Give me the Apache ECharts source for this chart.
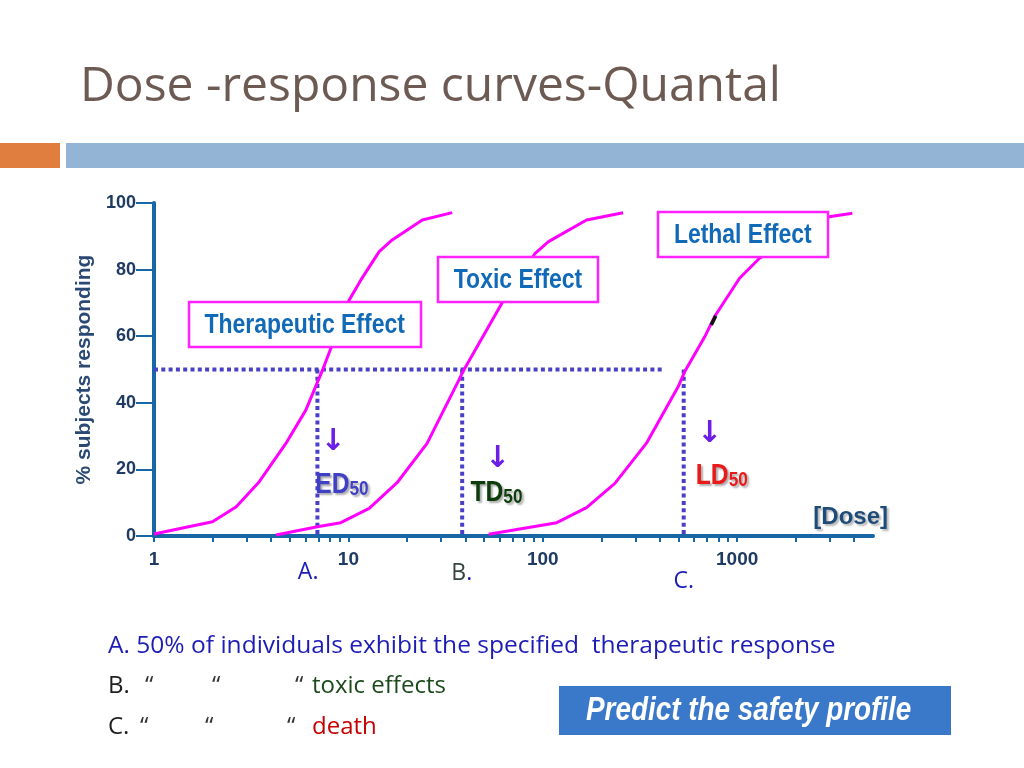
<!DOCTYPE html>
<html>
<head>
<meta charset="utf-8">
<title>Dose -response curves-Quantal</title>
<script src="https://cdn.jsdelivr.net/npm/echarts@6/dist/echarts.min.js"></script>
<style>
  html, body { margin: 0; padding: 0; background: #fff; }
  #chart { width: 1024px; height: 768px; }
</style>
</head>
<body>
<div id="chart"></div>
<script>
// dose (log scale) vs % of subjects responding
const therapeuticCurve = [[1, 0.6], [2, 4.3], [2.65, 8.8], [3.48, 16.3], [4.77, 27.8], [6.04, 37.8], [7.36, 49.8],
  [10.1, 70.9], [11.6, 76.9], [14.4, 85.4], [16.8, 88.9], [24, 94.9], [34.2, 97.1]];
const toxicCurve = [[4.24, 0.3], [6.93, 2.8], [9.14, 4.0], [12.8, 8.3], [17.8, 16], [25.4, 27.8], [37, 46.8], [39.2, 49.8],
  [61.6, 69.9], [91.4, 84.9], [107, 88.4], [168, 94.9], [259, 97.1]];
const lethalCurve = [[52.7, 0.5], [118, 4.0], [168, 8.5], [235, 15.8], [341, 27.8], [497, 44.8], [537, 49.3],
  [681, 59.8], [766, 65.9], [1029, 77.4], [1303, 83.4], [2979, 95.9], [3917, 96.9]];
const penMark = [[736, 63.4], [776, 66.1]];           // small black stroke on the lethal curve

const medianNames = ['ED', 'TD', 'LD'];
const medianDoses = [6.93, 38.5, 531];                 // dotted drops at 50 %
const halfLevel = 50;
const halfGuideEnd = 420;                              // horizontal dotted guide stops here
const pointLetters = ['A', 'B', 'C'];

const effectNames = ['Therapeutic Effect', 'Toxic Effect', 'Lethal Effect'];

const xTickValues = [1, 2, 3, 4, 5, 6, 7, 8, 9, 10, 20, 30, 40, 50, 60, 70, 80, 90,
  100, 200, 300, 400, 500, 600, 700, 800, 900, 1000, 2000, 3000, 4000];
const xLabelValues = [1, 10, 100, 1000];

// anchors (data space) for the annotations drawn on the plot
const effectAnchors = [[5.96, 63.6], [74.6, 77.1], [1069, 90.6]];
const medianLabelAnchors = [[9.27, 15.3], [57.8, 12.9], [834, 18.0]];
const arrowAnchors = [[8.35, 28.1], [58.6, 23.1], [722, 30.7]];
const letterAnchors = [[6.21, -10.8], [38.3, -11.1], [532, -13.5]];

const ARIAL = '"Liberation Sans", Arial, sans-serif';
const SLIDE = '"Open Sans", "DejaVu Sans", sans-serif';
const NARROW_SCALE = 0.82;   // no Arial Narrow installed: squeeze Liberation Sans
const MAGENTA = '#ff00ff';
const AXIS_BLUE = '#1766a6';
const DOT_BLUE = '#4a40c8';
const medianColors = ['#4040c6', '#0d3d0d', '#e81a1a'];
const letterColors = ['#1c1cb8', '#34443f', '#1c1cb8'];

const chart = echarts.init(document.getElementById('chart'), null, { renderer: 'canvas' });

const dotted = { color: DOT_BLUE, width: 4, type: [4, 3.3], cap: 'butt' };
const hidden = { color: 'rgba(0,0,0,0)', opacity: 1 };
const series = [];

series.push({
  type: 'line', name: '50% guide', z: 2, symbol: 'none', silent: true,
  lineStyle: dotted,
  data: [[1, halfLevel], [halfGuideEnd, halfLevel]]
});
medianDoses.forEach((d, i) => {
  series.push({
    type: 'line', name: medianNames[i] + '50 drop', z: 2, symbol: 'none', silent: true,
    lineStyle: dotted,
    data: [[d, halfLevel], [d, 0]]
  });
});

[therapeuticCurve, toxicCurve, lethalCurve].forEach((c, i) => {
  series.push({
    type: 'line', name: effectNames[i], z: 3, symbol: 'none', smooth: false, silent: true,
    lineStyle: { color: MAGENTA, width: 3 },
    data: c
  });
});

series.push({
  type: 'line', name: 'mark', z: 4, symbol: 'none', silent: true,
  lineStyle: { color: '#111', width: 3.5 },
  data: penMark
});

// arrows
series.push({
  type: 'scatter', name: 'arrows', z: 10, clip: false, silent: true,
  symbolSize: 1, itemStyle: hidden,
  label: {
    show: true, position: 'inside', formatter: '\u2193',
    fontFamily: '"DejaVu Sans", sans-serif', fontWeight: 'bold', fontSize: 30, color: '#6b1ee6'
  },
  data: arrowAnchors
});

// A. B. C. under the axis
series.push({
  type: 'scatter', name: 'letters', z: 10, clip: false, silent: true,
  symbolSize: 1, itemStyle: hidden,
  data: letterAnchors.map((a, i) => ({
    value: a,
    label: {
      show: true, position: 'inside',
      formatter: '{l|' + pointLetters[i] + '}{d|.}',
      rich: {
        l: { fontFamily: SLIDE, fontSize: 23, color: letterColors[i] },
        d: { fontFamily: SLIDE, fontSize: 23, color: '#1c1cb8' }
      }
    }
  }))
});

const option = {
  animation: false,
  backgroundColor: '#fff',
  grid: { left: 154, right: 151, top: 203, bottom: 232, containLabel: false },
  xAxis: {
    type: 'log', logBase: 10, min: 1, max: 5000,
    name: '[Dose]', nameLocation: 'end', nameGap: 15,
    nameTextStyle: {
      fontFamily: ARIAL, fontWeight: 'bold', fontSize: 24, color: '#1e4c78',
      align: 'right', verticalAlign: 'bottom', padding: [0, 0, 7, 0],
      textShadowColor: 'rgba(70,70,70,0.4)', textShadowOffsetX: 2, textShadowOffsetY: 2, textShadowBlur: 2
    },
    axisLine: { show: true, lineStyle: { color: AXIS_BLUE, width: 4 } },
    axisTick: { show: true, length: 6, lineStyle: { color: AXIS_BLUE, width: 2 }, customValues: xTickValues },
    minorTick: { show: false },
    splitLine: { show: false },
    axisLabel: {
      customValues: xLabelValues,
      formatter: v => String(Math.round(v)),
      margin: 14, fontFamily: ARIAL, fontWeight: 'bold', fontSize: 19, color: '#1f3b63'
    }
  },
  yAxis: {
    type: 'value', min: 0, max: 100, interval: 20,
    name: '% subjects responding', nameLocation: 'middle', nameGap: 59, nameRotate: 90,
    nameTextStyle: { fontFamily: ARIAL, fontWeight: 'bold', fontSize: 21, color: '#2a4a75' },
    axisLine: { show: true, lineStyle: { color: AXIS_BLUE, width: 4 } },
    axisTick: { show: true, length: 18, lineStyle: { color: AXIS_BLUE, width: 2 } },
    splitLine: { show: false },
    axisLabel: { margin: 18, fontFamily: ARIAL, fontWeight: 'bold', fontSize: 18, color: '#1f3b63' }
  },
  series: series
};

chart.setOption(option);

// ---- annotations placed from the data anchors, plus the slide furniture ----
const toPx = a => chart.convertToPixel({ xAxisIndex: 0, yAxisIndex: 0 }, a);
const ctx = document.createElement('canvas').getContext('2d');
function textWidth(font, s) { ctx.font = font; return ctx.measureText(s).width; }

const boxFont = 'bold 28px ' + ARIAL;
const boxGraphics = [];
effectAnchors.forEach((a, i) => {
  const p = toPx(a);
  const w = textWidth(boxFont, effectNames[i]) * NARROW_SCALE + 32;
  const h = 45;
  boxGraphics.push({
    type: 'rect', z: 100,
    shape: { x: Math.round(p[0] - w / 2), y: Math.round(p[1] - h / 2), width: Math.round(w), height: h },
    style: { fill: '#fff', stroke: '#ff22ff', lineWidth: 2.5 }
  });
  boxGraphics.push({
    type: 'text', z: 101, x: p[0], y: p[1] + 1, scaleX: NARROW_SCALE,
    style: { text: effectNames[i], font: boxFont, fill: '#116ab8', align: 'center', verticalAlign: 'middle' }
  });
});

const shadow = { textShadowColor: 'rgba(70,70,70,0.45)', textShadowOffsetX: 2, textShadowOffsetY: 2, textShadowBlur: 2 };
const medianGraphics = medianLabelAnchors.map((a, i) => {
  const p = toPx(a);
  return {
    type: 'text', z: 101, x: p[0], y: p[1], scaleX: NARROW_SCALE,
    style: {
      text: '{m|' + medianNames[i] + '}{s|50}', align: 'center', verticalAlign: 'middle',
      rich: {
        m: Object.assign({ fontFamily: ARIAL, fontWeight: 'bold', fontSize: 30, lineHeight: 30, verticalAlign: 'top', fill: medianColors[i] }, shadow),
        s: Object.assign({ fontFamily: ARIAL, fontWeight: 'bold', fontSize: 21, lineHeight: 20, verticalAlign: 'bottom', padding: [18, 0, 0, 0], fill: medianColors[i] }, shadow)
      }
    }
  };
});

const F = '24px ' + SLIDE;
const slideGraphics = [
  { type: 'rect', shape: { x: 0, y: 143, width: 60, height: 25 }, style: { fill: '#e07e3f' } },
  { type: 'rect', shape: { x: 66, y: 143, width: 958, height: 25 }, style: { fill: '#93b4d4' } },
  { type: 'text', x: 80, y: 87, style: { text: 'Dose -response curves-Quantal', font: '48px ' + SLIDE, fill: '#6c5a53', verticalAlign: 'middle' } },
  { type: 'text', x: 108, y: 646, scaleX: 1.022, style: { text: 'A. 50% of individuals exhibit the specified  therapeutic response', font: F, fill: '#1d1db5', verticalAlign: 'middle' } },
  { type: 'text', x: 108, y: 686, style: { text: 'B.', font: F, fill: '#1e1e1e', verticalAlign: 'middle' } },
  { type: 'text', x: 145, y: 686, style: { text: '\u201c', font: F, fill: '#333', verticalAlign: 'middle' } },
  { type: 'text', x: 212, y: 686, style: { text: '\u201c', font: F, fill: '#333', verticalAlign: 'middle' } },
  { type: 'text', x: 295, y: 686, style: { text: '\u201c', font: F, fill: '#333', verticalAlign: 'middle' } },
  { type: 'text', x: 312, y: 686, style: { text: 'toxic effects', font: F, fill: '#1c4a1c', verticalAlign: 'middle' } },
  { type: 'text', x: 108, y: 727, style: { text: 'C.', font: F, fill: '#1e1e1e', verticalAlign: 'middle' } },
  { type: 'text', x: 140, y: 727, style: { text: '\u201c', font: F, fill: '#333', verticalAlign: 'middle' } },
  { type: 'text', x: 205, y: 727, style: { text: '\u201c', font: F, fill: '#333', verticalAlign: 'middle' } },
  { type: 'text', x: 287, y: 727, style: { text: '\u201c', font: F, fill: '#333', verticalAlign: 'middle' } },
  { type: 'text', x: 312, y: 727, style: { text: 'death', font: F, fill: '#c40000', verticalAlign: 'middle' } },
  { type: 'rect', shape: { x: 559, y: 686, width: 392, height: 49 }, style: { fill: '#3a79c9' } },
  { type: 'text', x: 586, y: 711, scaleX: NARROW_SCALE, style: { text: 'Predict the safety profile', font: 'italic bold 34px ' + ARIAL, fill: '#fff', verticalAlign: 'middle' } }
];

chart.setOption({ graphic: slideGraphics.concat(boxGraphics, medianGraphics) });
</script>
</body>
</html>
